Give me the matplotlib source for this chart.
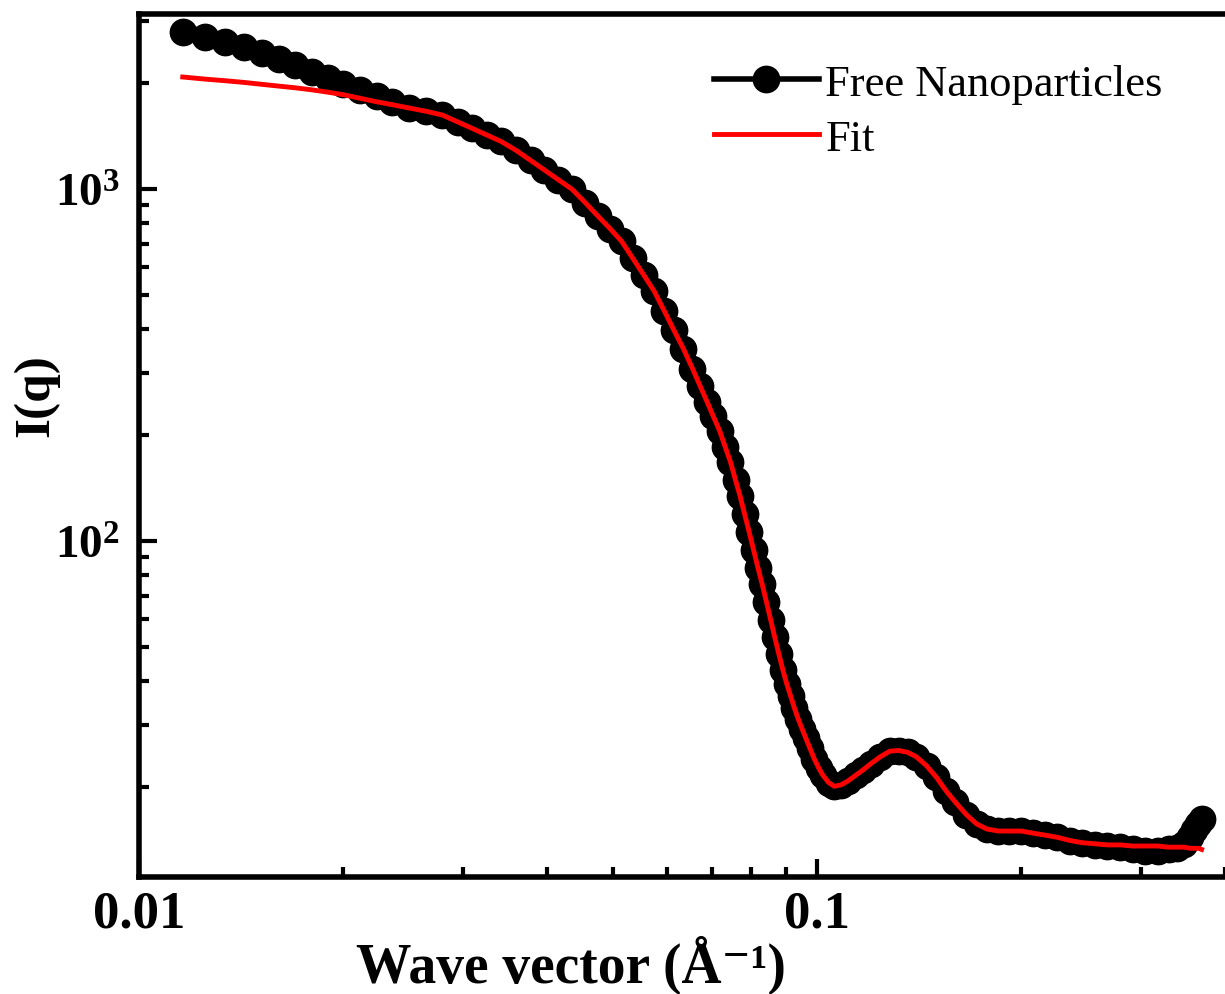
# ============================================================
# SAXS profile of free nanoparticles with model fit (log-log)
# ============================================================

# ── 0. IMPORTS ──────────────────────────────────────────────
import matplotlib
matplotlib.use("Agg")
import matplotlib.pyplot as plt
from matplotlib.ticker import LogLocator, NullFormatter

# ── 1. DATA ─────────────────────────────────────────────────
q = [
    0.0116, 0.0125, 0.0134, 0.0143, 0.0152, 0.0161, 0.0170, 0.0180, 0.0190, 0.0200,
    0.0212, 0.0224, 0.0236, 0.0250, 0.0265, 0.0280, 0.0295, 0.0310, 0.0326, 0.0342,
    0.0360, 0.0378, 0.0396, 0.0415, 0.0435, 0.0455, 0.0475, 0.0495, 0.0515, 0.0535,
    0.0555, 0.0575, 0.0595, 0.0615, 0.0635, 0.0655, 0.0672, 0.0688, 0.0703, 0.0718,
    0.0732, 0.0745, 0.0758, 0.0770, 0.0782, 0.0794, 0.0806, 0.0818, 0.0830, 0.0842,
    0.0854, 0.0866, 0.0878, 0.0890, 0.0902, 0.0914, 0.0926, 0.0938, 0.0950, 0.0962,
    0.0975, 0.0990, 0.1005, 0.1020, 0.1040, 0.1060, 0.1085, 0.111, 0.114, 0.117,
    0.120, 0.124, 0.128, 0.132, 0.136, 0.140, 0.145, 0.150, 0.155, 0.160,
    0.166, 0.172, 0.178, 0.185, 0.192, 0.200, 0.208, 0.217, 0.226, 0.236,
    0.246, 0.257, 0.268, 0.280, 0.292, 0.305, 0.318, 0.330, 0.340, 0.348,
    0.355, 0.360, 0.365, 0.369,
]

i_data = [
    2793, 2703, 2617, 2532, 2434, 2340, 2251, 2150, 2067, 1988,
    1911, 1838, 1767, 1704, 1661, 1623, 1552, 1487, 1423, 1365,
    1287, 1206, 1133, 1064, 999, 915, 838, 772, 710, 635,
    570, 513, 451, 397, 352, 309, 276, 249, 226, 206,
    185, 168, 149, 134, 119, 106, 94.3, 84.0, 75.3, 67.1,
    59.8, 53.3, 47.8, 43.1, 39.3, 36.3, 33.5, 31.2, 29.3, 27.6,
    25.9, 24.1, 22.7, 21.6, 20.6, 20.1, 20.3, 20.8, 21.6, 22.4,
    23.3, 24.4, 25.3, 25.4, 25.1, 24.4, 23.0, 21.3, 19.5, 18.1,
    16.7, 15.7, 15.2, 15.0, 15.0, 15.0, 14.8, 14.6, 14.4, 14.1,
    13.9, 13.7, 13.6, 13.5, 13.3, 13.2, 13.2, 13.3, 13.4, 13.8,
    14.4, 15.1, 15.7, 16.2,
]

i_fit = [
    2081, 2053, 2031, 2008, 1983, 1960, 1939, 1913, 1884, 1854,
    1810, 1770, 1737, 1700, 1663, 1623, 1552, 1487, 1423, 1365,
    1287, 1206, 1133, 1064, 999, 915, 838, 772, 710, 635,
    570, 513, 451, 397, 352, 309, 276, 249, 226, 206,
    185, 168, 149, 134, 119, 106, 94.3, 84.0, 75.3, 67.1,
    59.8, 53.3, 47.8, 43.1, 39.3, 36.3, 33.5, 31.2, 29.3, 27.6,
    25.9, 24.1, 22.7, 21.6, 20.6, 20.1, 20.3, 20.8, 21.6, 22.4,
    23.3, 24.4, 25.3, 25.4, 25.1, 24.4, 23.0, 21.3, 19.5, 18.1,
    16.7, 15.7, 15.2, 15.0, 15.0, 15.0, 14.8, 14.6, 14.4, 14.1,
    13.9, 13.8, 13.7, 13.7, 13.6, 13.6, 13.6, 13.5, 13.5, 13.5,
    13.4, 13.4, 13.4, 13.3,
]

x_ticks = [0.01, 0.1]
x_tick_labels = ["0.01", "0.1"]
y_ticks = [100, 1000]
y_tick_labels = [r"$\mathbf{10^{2}}$", r"$\mathbf{10^{3}}$"]

# ── 2. STYLE ────────────────────────────────────────────────
plt.rcParams["font.family"] = ["Liberation Serif", "DejaVu Serif"]
plt.rcParams["mathtext.fontset"] = "custom"
plt.rcParams["mathtext.rm"] = "Liberation Serif"
plt.rcParams["mathtext.bf"] = "Liberation Serif:bold"
plt.rcParams["mathtext.it"] = "Liberation Serif:italic"

# ── 3. FIGURE ───────────────────────────────────────────────
fig = plt.figure(figsize=(12.25, 9.95), dpi=100)
ax = fig.add_axes([0.1135, 0.1171, 0.8927, 0.8678])

# thick underlay so the densely packed markers read as one band
ax.plot(q, i_data, color="black", lw=12, solid_capstyle="round",
        solid_joinstyle="round", zorder=1)
ax.plot(q, i_data, color="black", lw=4, marker="o", ms=19, mew=1,
        label="Free Nanoparticles", zorder=2)
ax.plot(q, i_fit, color="#ff0000", lw=3.5, label="Fit", zorder=3)

ax.set_xscale("log")
ax.set_yscale("log")
ax.set_xlim(0.01, 0.41)
ax.set_ylim(11.07, 3142)

for side in ["left", "bottom", "top", "right"]:
    ax.spines[side].set_linewidth(4)

ax.set_xticks(x_ticks, x_tick_labels, fontsize=38, fontweight="bold")
ax.set_yticks(y_ticks, y_tick_labels, fontsize=34)
ax.xaxis.set_minor_locator(LogLocator(base=10, subs=range(2, 10)))
ax.yaxis.set_minor_locator(LogLocator(base=10, subs=range(2, 10)))
ax.xaxis.set_minor_formatter(NullFormatter())
ax.yaxis.set_minor_formatter(NullFormatter())

ax.tick_params(which="both", direction="in", top=False, right=False, width=3)
ax.tick_params(which="major", length=13)
ax.tick_params(which="minor", length=7)
ax.tick_params(axis="x", which="major", pad=9)
ax.tick_params(axis="y", which="major", pad=14)

# ── 4. LABELS + LEGEND ──────────────────────────────────────
fig.text(0.0294, 0.602, "I(q)", rotation=90, fontsize=37, fontweight="bold",
         ha="center", va="center")
fig.text(0.291, 0.012, "Wave vector (Å⁻¹)", fontsize=40,
         fontweight="bold", ha="left", va="baseline")

ax.legend(loc="upper left", bbox_to_anchor=(0.583, 0.935),
          bbox_transform=fig.transFigure, frameon=False,
          prop={"size": 32}, handlelength=2.35, handletextpad=0.15,
          labelspacing=0.33, borderpad=0, borderaxespad=0, numpoints=1)

fig.savefig("out.png", dpi=100)
